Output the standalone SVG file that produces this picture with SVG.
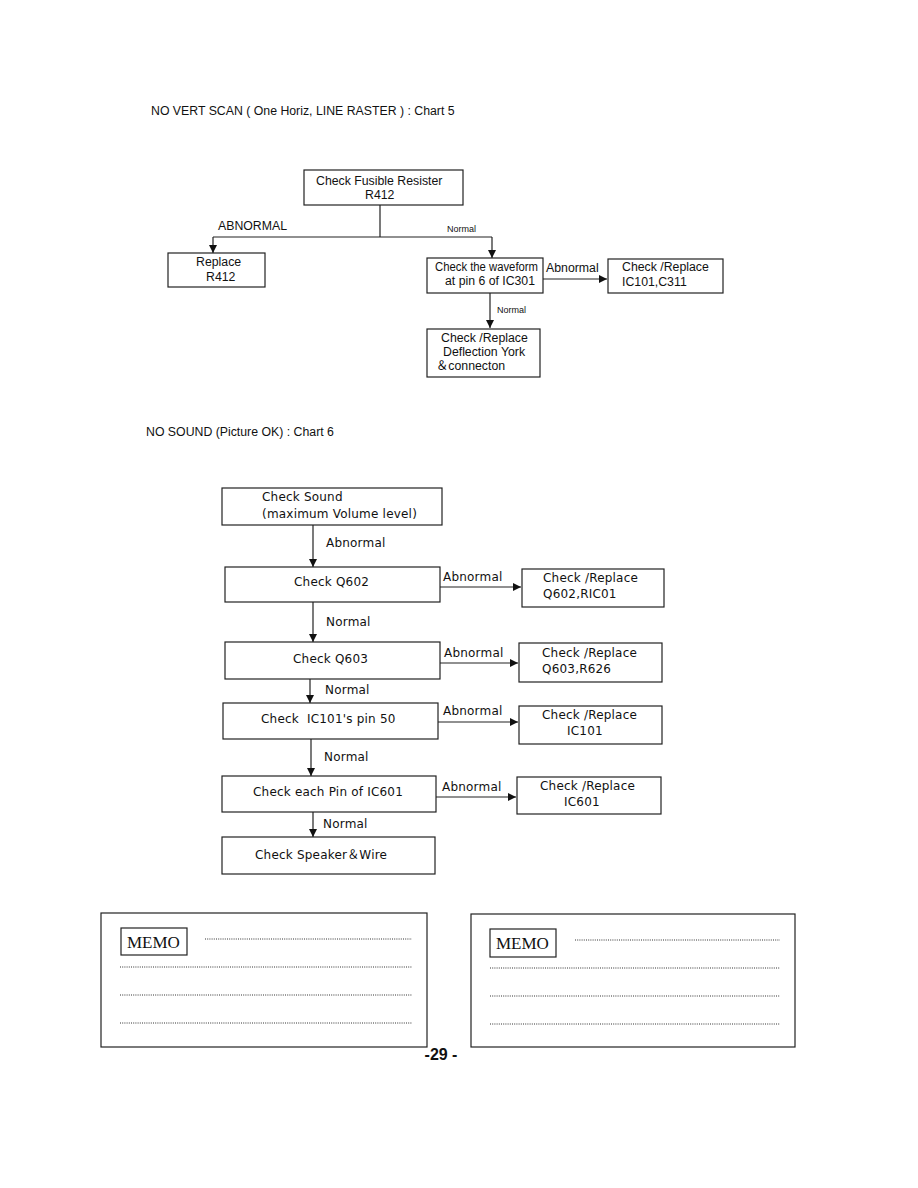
<svg xmlns="http://www.w3.org/2000/svg" width="918" height="1188" viewBox="0 0 918 1188">
<style>
.bx{fill:#fff;stroke:#222;stroke-width:1.2}
.ln{fill:none;stroke:#222;stroke-width:1.2}
.ar{fill:none;stroke:#222;stroke-width:1.2;marker-end:url(#ah)}
.t5{font-family:"Liberation Sans",Arial,sans-serif;font-size:12.3px;fill:#111}
.sm{font-family:"Liberation Sans",Arial,sans-serif;font-size:9px;fill:#111}
.t6{font-family:"DejaVu Sans","Liberation Sans",sans-serif;font-size:12px;fill:#111;letter-spacing:0.2px}
.memo{font-family:"Liberation Serif","Times New Roman",serif;font-size:17px;fill:#111}
.dot{fill:none;stroke:#333;stroke-width:1;stroke-dasharray:1 1.2}
.fw{font-family:"Noto Sans CJK JP",sans-serif}
</style>
<defs>
<marker id="ah" markerUnits="userSpaceOnUse" markerWidth="9" markerHeight="9" refX="8" refY="4" orient="auto">
<path d="M0,0 L8,4 L0,8 z" fill="#111"/>
</marker>
</defs>
<rect width="918" height="1188" fill="#fff"/>

<text class="t5" x="151" y="115">NO VERT SCAN ( One Horiz, LINE RASTER ) : Chart 5</text>

<g id="connectors5">
<path class="ln" d="M380,205 V237 M213,237 H492"/>
<path class="ar" d="M213,237 V253"/>
<path class="ar" d="M492,237 V258"/>
<path class="ar" d="M543,279 H607"/>
<path class="ar" d="M490,293 V328"/>
<text class="t5" x="218" y="230">ABNORMAL</text>
<text class="sm" x="447" y="232">Normal</text>
<text class="t5" x="546" y="272">Abnormal</text>
<text class="sm" x="497" y="313">Normal</text>
</g>

<g id="n_fusible">
<rect class="bx" x="304" y="170" width="159" height="35"/>
<text class="t5" x="316" y="185">Check Fusible Resister</text>
<text class="t5" x="365" y="199">R412</text>
</g>
<g id="n_replace_r412">
<rect class="bx" x="168" y="253" width="97" height="34"/>
<text class="t5" x="196" y="266">Replace</text>
<text class="t5" x="206" y="281">R412</text>
</g>
<g id="n_waveform">
<rect class="bx" x="427" y="258" width="116" height="35"/>
<text class="t5" x="435" y="271" textLength="103" lengthAdjust="spacingAndGlyphs">Check the waveform</text>
<text class="t5" x="445" y="285" textLength="90" lengthAdjust="spacingAndGlyphs">at pin 6 of IC301</text>
</g>
<g id="n_ic101_c311">
<rect class="bx" x="608" y="259" width="115" height="34"/>
<text class="t5" x="622" y="271">Check /Replace</text>
<text class="t5" x="622" y="286">IC101,C311</text>
</g>
<g id="n_deflection">
<rect class="bx" x="427" y="329" width="113" height="48"/>
<text class="t5" x="441" y="342">Check /Replace</text>
<text class="t5" x="443" y="356">Deflection York</text>
<text class="t5" x="436" y="370"><tspan class="fw">＆</tspan>connecton</text>
</g>

<text class="t5" x="146" y="436">NO SOUND (Picture OK) : Chart 6</text>

<g id="connectors6">
<path class="ar" d="M313,525 V567"/>
<path class="ar" d="M313,602 V642"/>
<path class="ar" d="M310,679 V703"/>
<path class="ar" d="M311,739 V776"/>
<path class="ar" d="M313,812 V837"/>
<path class="ar" d="M440,587 H521"/>
<path class="ar" d="M440,663 H518"/>
<path class="ar" d="M438,722 H518"/>
<path class="ar" d="M436,797 H516"/>
<text class="t6" x="326" y="547">Abnormal</text>
<text class="t6" x="326" y="626">Normal</text>
<text class="t6" x="325" y="694">Normal</text>
<text class="t6" x="324" y="761">Normal</text>
<text class="t6" x="323" y="828">Normal</text>
<text class="t6" x="443" y="581">Abnormal</text>
<text class="t6" x="444" y="657">Abnormal</text>
<text class="t6" x="443" y="715">Abnormal</text>
<text class="t6" x="442" y="791">Abnormal</text>
</g>

<g id="n_sound">
<rect class="bx" x="222" y="488" width="220" height="37"/>
<text class="t6" x="262" y="501">Check Sound</text>
<text class="t6" x="262" y="518">(maximum Volume level)</text>
</g>
<g id="n_q602">
<rect class="bx" x="225" y="567" width="215" height="35"/>
<text class="t6" x="294" y="586">Check Q602</text>
</g>
<g id="n_q602r">
<rect class="bx" x="522" y="569" width="142" height="38"/>
<text class="t6" x="543" y="582">Check /Replace</text>
<text class="t6" x="543" y="598">Q602,RIC01</text>
</g>
<g id="n_q603">
<rect class="bx" x="225" y="642" width="215" height="37"/>
<text class="t6" x="293" y="663">Check Q603</text>
</g>
<g id="n_q603r">
<rect class="bx" x="519" y="643" width="143" height="39"/>
<text class="t6" x="542" y="657">Check /Replace</text>
<text class="t6" x="542" y="673">Q603,R626</text>
</g>
<g id="n_ic101">
<rect class="bx" x="223" y="703" width="215" height="36"/>
<text class="t6" x="261" y="723" xml:space="preserve">Check  IC101's pin 50</text>
</g>
<g id="n_ic101r">
<rect class="bx" x="519" y="706" width="143" height="38"/>
<text class="t6" x="542" y="719">Check /Replace</text>
<text class="t6" x="567" y="735">IC101</text>
</g>
<g id="n_ic601">
<rect class="bx" x="222" y="776" width="214" height="36"/>
<text class="t6" x="253" y="796">Check each Pin of IC601</text>
</g>
<g id="n_ic601r">
<rect class="bx" x="517" y="777" width="144" height="37"/>
<text class="t6" x="540" y="790">Check /Replace</text>
<text class="t6" x="564" y="806">IC601</text>
</g>
<g id="n_speaker">
<rect class="bx" x="222" y="837" width="213" height="37"/>
<text class="t6" x="255" y="859">Check Speaker<tspan class="fw">＆</tspan>Wire</text>
</g>

<g id="memo_left">
<rect class="bx" x="101" y="913" width="326" height="134"/>
<rect class="bx" x="121" y="928" width="66" height="27"/>
<text class="memo" x="127" y="948">MEMO</text>
<path class="dot" d="M205,939 H412 M120,967 H412 M120,995 H412 M120,1023 H412"/>
</g>
<g id="memo_right">
<rect class="bx" x="471" y="914" width="324" height="133"/>
<rect class="bx" x="490" y="929" width="66" height="28"/>
<text class="memo" x="496" y="949">MEMO</text>
<path class="dot" d="M575,940 H780 M490,968 H780 M490,996 H780 M490,1024 H780"/>
</g>

<text x="441" y="1060" text-anchor="middle" style="font-family:'Liberation Sans',Arial,sans-serif;font-size:16px;font-weight:bold;fill:#111">-29 -</text>
</svg>
